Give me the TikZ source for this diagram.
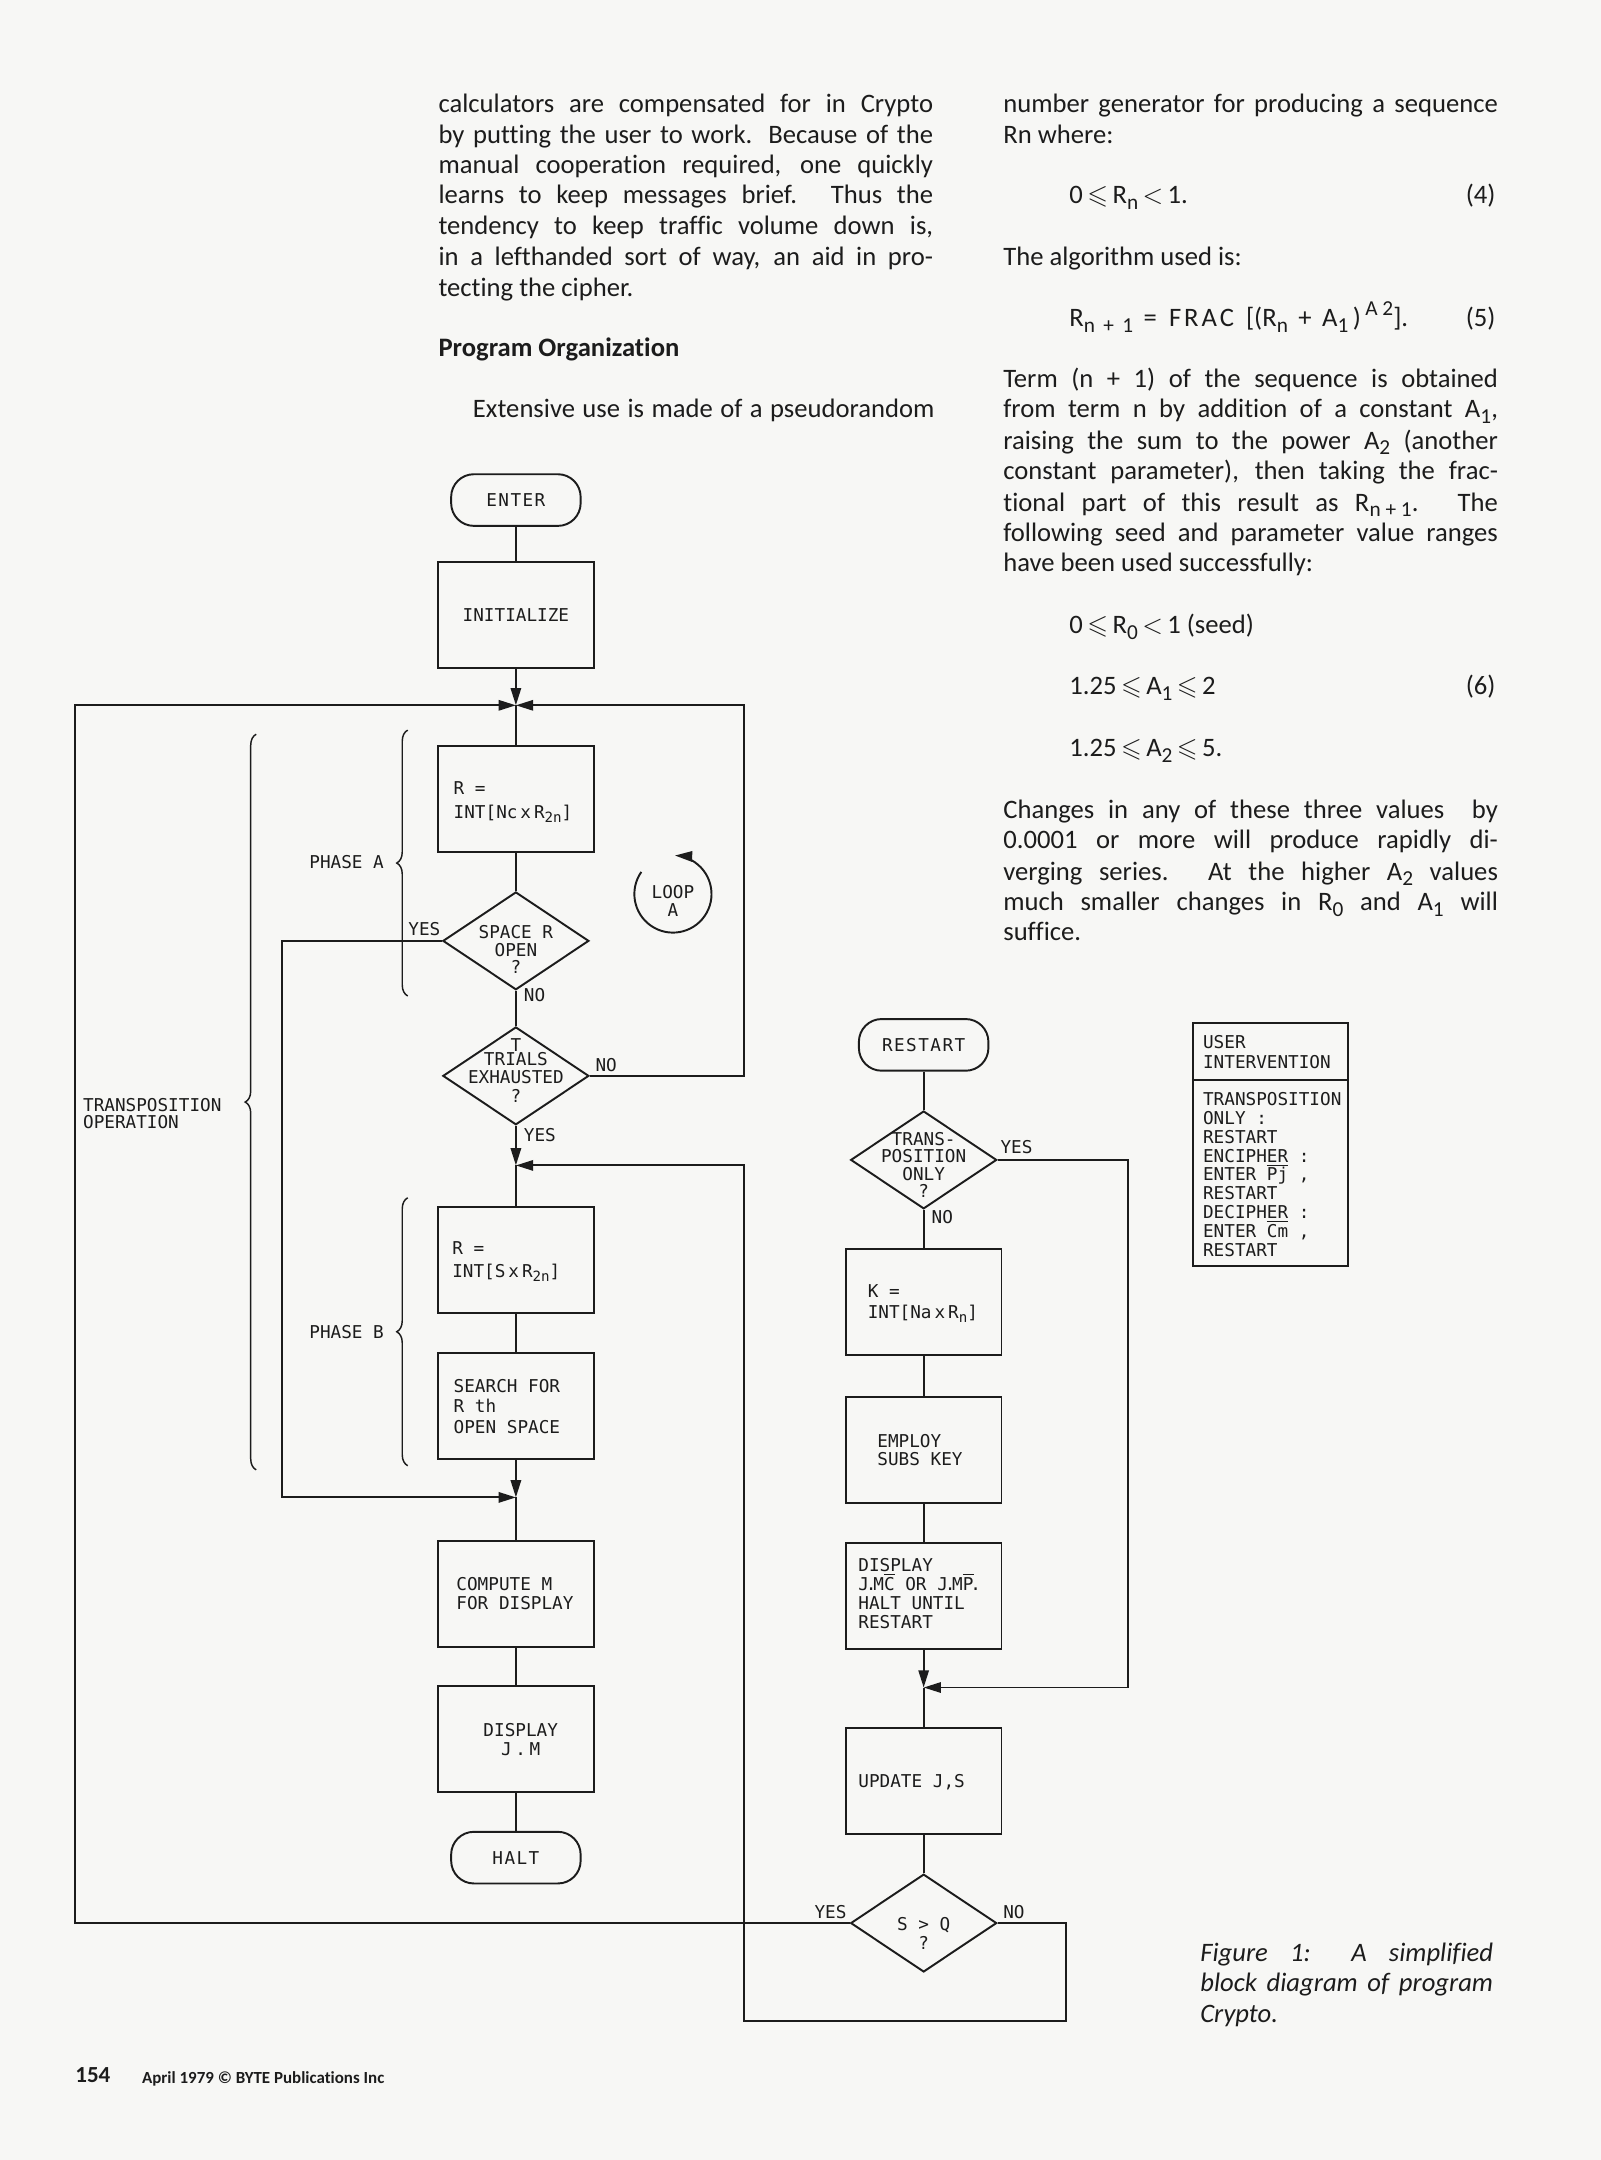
\documentclass[tikz,border=0pt]{standalone}
\usepackage{fontspec}
\usepackage{amssymb}
\usepackage{graphicx}
\setmainfont{Carlito}[Ligatures=NoCommon]
\newfontfamily\chfam{DejaVu Sans Mono}
\usetikzlibrary{arrows.meta,shapes.geometric,decorations.pathreplacing}
\definecolor{pagebg}{RGB}{247,247,245}
\definecolor{ink}{RGB}{28,28,28}
\newcommand\bodyf{\fontsize{11pt}{13pt}\selectfont}
\newcommand\chf{\chfam\fontsize{7.3pt}{8pt}\selectfont}
\newcommand\lo[1]{\raisebox{-0.45ex}{\scalebox{0.8}{#1}}}
\newcommand\hi[1]{\raisebox{0.9ex}{\scalebox{0.8}{#1}}}
\newcommand\ov[1]{$\overline{\mbox{#1}}$}
\newcommand\jl[1]{\makebox[71.8mm][s]{#1}}
\newcommand\dt{\kern-1.3pt.\kern-1.3pt}
\begin{document}
\begin{tikzpicture}[x=0.2mm,y=-0.2mm,
  ln/.style={draw=ink,line width=0.8pt},
  arr/.style={ln,-{Triangle[length=2.5mm,width=1.5mm]}},
  box/.style={ln,rectangle,minimum width=22.6mm,minimum height=15.4mm,inner sep=0,font=\chf,text=ink},
  term/.style={ln,rectangle,rounded corners=3.3mm,minimum width=18.8mm,minimum height=7.5mm,inner sep=0,font=\chf,text=ink},
  dia/.style={ln,diamond,minimum width=21.2mm,minimum height=14.2mm,inner sep=0},
  ft/.style={font=\chf,text=ink,inner sep=0,anchor=base west},
  fc/.style={font=\chf,text=ink,inner sep=0,anchor=base},
  fe/.style={font=\chf,text=ink,inner sep=0,anchor=base east},
  bt/.style={font=\bodyf,text=ink,inner sep=0,anchor=base west},
  be/.style={font=\bodyf,text=ink,inner sep=0,anchor=base east},
  brc/.style={draw=ink,line width=0.6pt,decorate,decoration={brace,amplitude=1.6mm}}
]
\useasboundingbox (0,0) rectangle (1162,1568);
\fill[pagebg] (0,0) rectangle (1162,1568);

% ---------------- left column text
\node[bt] (l1) at (318,82) {\jl{calculators are compensated for in Crypto}};
\node[bt] (l2) at (318,104) {\jl{by putting the user to work. Because of the}};
\node[bt] (l3) at (318,126) {\jl{manual cooperation required, one quickly}};
\node[bt] (l4) at (318,148) {\jl{learns to keep messages brief. Thus the}};
\node[bt] (l5) at (318,170) {\jl{tendency to keep traffic volume down is,}};
\node[bt] (l6) at (318,193) {\jl{in a lefthanded sort of way, an aid in pro-}};
\node[bt] (l7) at (318,215) {tecting the cipher.};
\node[bt,font=\bodyf\bfseries] (hd) at (318,259) {Program Organization};
\node[bt] (l8) at (343,303) {\makebox[67mm][s]{Extensive use is made of a pseudorandom}};

% ---------------- right column text
\node[bt] (r1) at (728,82) {\jl{number generator for producing a sequence}};
\node[bt] (r2) at (728,104) {Rn where:};
\node[bt] (e4) at (776,148) {0\,$\leqslant$\,R\lo{n}\,$<$\,1.};
\node[be] (n4) at (1086,148) {(4)};
\node[bt] (r3) at (728,193) {The algorithm used is:};
\node[bt] (e5) at (776,237) {R\lo{n\ \,+\ \,1}\ \,=\ \ F\kern1.2pt R\kern1.2pt A\kern1.2pt C\ \ [(R\lo{n}\ \,+\ \,A\lo{1}\,)\,\hi{A\ 2}].};
\node[be] (n5) at (1086,237) {(5)};
\node[bt] (r4) at (728,281) {\jl{Term (n + 1) of the sequence is obtained}};
\node[bt] (r5) at (728,303) {\jl{from term n by addition of a constant A\lo{1},}};
\node[bt] (r6) at (728,326) {\jl{raising the sum to the power A\lo{2} (another}};
\node[bt] (r7) at (728,348) {\jl{constant parameter), then taking the frac-}};
\node[bt] (r8) at (728,371) {\jl{tional part of this result as R\lo{n\ +\ 1}. The}};
\node[bt] (r9) at (728,393) {\jl{following seed and parameter value ranges}};
\node[bt] (r10) at (728,415) {have been used successfully:};
\node[bt] (e6a) at (776,460) {0\,$\leqslant$\,R\lo{0}\,$<$\,1 (seed)};
\node[bt] (e6b) at (776,504) {1.25\,$\leqslant$\,A\lo{1}\,$\leqslant$\,2};
\node[be] (n6) at (1086,504) {(6)};
\node[bt] (e6c) at (776,549) {1.25\,$\leqslant$\,A\lo{2}\,$\leqslant$\,5.};
\node[bt] (r11) at (728,594) {\jl{Changes in any of these three values \ by}};
\node[bt] (r12) at (728,616) {\jl{0.0001 or more will produce rapidly di-}};
\node[bt] (r13) at (728,639) {\jl{verging series. At the higher A\lo{2} values}};
\node[bt] (r14) at (728,661) {\jl{much smaller changes in R\lo{0} and A\lo{1} will}};
\node[bt] (r15) at (728,683) {suffice.};

% ---------------- left flowchart
\node[term] (enter) at (374.5,363) {E\kern0.6pt N\kern0.6pt T\kern0.6pt E\kern0.6pt R};
\node[box] (init) at (374.5,446.7) {INITIALIZE};
\coordinate (jA) at (374.5,512);
\node[box] (rA) at (374.5,580) {};
\node[ft] (rA1) at (329,576.5) {R =};
\node[ft] (rA2) at (329,594) {INT[Nc\,x\,R\lo{2n}]};
\node[dia] (dSpace) at (374.5,683) {};
\node[fc] (ds1) at (374.5,681.5) {SPACE R};
\node[fc] (ds2) at (374.5,694.5) {OPEN};
\node[fc] (ds3) at (374.5,706.5) {?};
\node[dia] (dTrials) at (374.5,781) {};
\node[fc] (dt0) at (374.5,763) {T};
\node[fc] (dt1) at (374.5,773.5) {TRIALS};
\node[fc] (dt2) at (374.5,786.5) {EXHAUSTED};
\node[fc] (dt3) at (374.5,800) {?};
\coordinate (jB) at (374.5,846);
\node[box] (rB) at (374.5,914.5) {};
\node[ft] (rB1) at (328,911) {R =};
\node[ft] (rB2) at (328,927) {INT[S\,x\,R\lo{2n}]};
\node[box] (search) at (374.5,1020.5) {};
\node[ft] (se1) at (329,1011) {SEARCH FOR};
\node[ft] (se2) at (329,1025.5) {R th};
\node[ft] (se3) at (329,1040.5) {OPEN SPACE};
\coordinate (jC) at (374.5,1087);
\node[box] (compute) at (374.5,1156.8) {};
\node[ft] (co1) at (331,1154.5) {COMPUTE M};
\node[ft] (co2) at (331,1168.5) {FOR DISPLAY};
\node[box] (dispJM) at (374.5,1262.3) {};
\node[fc] (dj1) at (378,1260.5) {DISPLAY};
\node[fc] (dj2) at (378,1274.5) {J\kern1.5pt.\kern1.5pt M};
\node[term] (halt) at (374.5,1348.5) {H\kern0.6pt A\kern0.6pt L\kern0.6pt T};

\node[fe] (yesA) at (320,679) {YES};
\node[ft] (noA) at (380,727) {NO};
\node[ft] (noT) at (432,778) {NO};
\node[ft] (yesT) at (380,828.5) {YES};
\node[fe] (phA) at (279,630.5) {PHASE A};
\node[fe] (phB) at (279,971.5) {PHASE B};
\node[ft] (tr1) at (60,806.5) {TRANSPOSITION};
\node[ft] (tr2) at (60,819.5) {OPERATION};
\node[fc] (lp1) at (488.5,652.5) {LOOP};
\node[fc] (lp2) at (488.5,665.5) {A};

\coordinate (cYa) at (204.7,1087);
\coordinate (cNa) at (540,512);
\coordinate (cTL) at (54.5,512);
\coordinate (cBR) at (774,1467);
\coordinate (cBL) at (540,846);

\draw[ln] (enter) -- (init);
\draw[arr] (init) -- (jA);
\draw[ln] (jA) -- (rA);
\draw[ln] (rA) -- (dSpace);
\draw[ln] (dSpace) -- (dTrials);
\draw[arr] (dSpace.west) -| (cYa) -- (jC);
\draw[arr] (dTrials.east) -| (cNa) -- (jA);
\draw[arr] (dTrials) -- (jB);
\draw[ln] (jB) -- (rB);
\draw[ln] (rB) -- (search);
\draw[arr] (search) -- (jC);
\draw[ln] (jC) -- (compute);
\draw[ln] (compute) -- (dispJM);
\draw[ln] (dispJM) -- (halt);

% braces
\draw[brc] (186,1067) -- (186,533);
\draw[brc] (296,723) -- (296,530);
\draw[brc] (296,1064) -- (296,869.5);

% loop A
\coordinate (lc) at (488.5,649);
\draw[arr] (lc) ++(145:5.6mm) arc[start angle=145,end angle=447,radius=5.6mm];

% ---------------- right flowchart
\node[term] (restart) at (670.5,758.5) {R\kern0.6pt E\kern0.6pt S\kern0.6pt T\kern0.6pt A\kern0.6pt R\kern0.6pt T};
\node[dia] (dTrans) at (670.5,842) {};
\node[fc] (dr1) at (670.5,831.5) {TRANS-};
\node[fc] (dr2) at (670.5,844) {POSITION};
\node[fc] (dr3) at (670.5,857) {ONLY};
\node[fc] (dr4) at (670.5,869) {?};
\node[ft] (yesR) at (726,837.5) {YES};
\node[ft] (noR) at (676,888) {NO};
\node[box] (kbox) at (670.5,945) {};
\node[ft] (k1) at (629.6,942) {K =};
\node[ft] (k2) at (629.6,957) {INT[Na\,x\,R\lo{n}]};
\node[box] (employ) at (670.5,1052.8) {};
\node[ft] (em1) at (636.6,1050.5) {EMPLOY};
\node[ft] (em2) at (636.6,1064) {SUBS KEY};
\node[box] (dispJMC) at (670.5,1158.5) {};
\node[ft] (dc1) at (622.8,1141) {DISPLAY};
\node[ft] (dc2) at (622.8,1154.5) {J\dt M\ov{C} OR J\dt M\ov{P}\dt};
\node[ft] (dc3) at (622.8,1168.5) {HALT UNTIL};
\node[ft] (dc4) at (622.8,1182.5) {RESTART};
\coordinate (jD) at (670.5,1225);
\node[box] (update) at (670.5,1293) {};
\node[ft] (up1) at (622.8,1297.5) {UPDATE J,S};
\node[dia] (dSQ) at (670.5,1396) {};
\node[fc] (sq1) at (670.5,1401.5) {S > Q};
\node[fc] (sq2) at (670.5,1415.5) {?};
\node[fe] (yesS) at (614.8,1393) {YES};
\node[ft] (noS) at (728,1393) {NO};

\coordinate (cYr) at (818.7,1225);

\draw[ln] (restart) -- (dTrans);
\draw[ln] (dTrans) -- (kbox);
\draw[ln] (kbox) -- (employ);
\draw[ln] (employ) -- (dispJMC);
\draw[arr] (dispJMC) -- (jD);
\draw[arr] (dTrans.east) -| (cYr) -- (jD);
\draw[ln] (jD) -- (update);
\draw[ln] (update) -- (dSQ);
\draw[arr] (dSQ.west) -| (cTL) -- (jA);
\draw[arr] (dSQ.east) -| (cBR) -| (cBL) -- (jB);

% ---------------- user intervention box
\node[ln,rectangle,minimum width=22.5mm,minimum height=35.2mm,inner sep=0] (ubox) at (922.2,830.9) {};
\coordinate (divy) at (0,783.8);
\draw[ln] (ubox.west |- divy) -- (ubox.east |- divy);
\node[ft] (u1) at (873,761) {USER};
\node[ft] (u2) at (873,775.5) {INTERVENTION};
\node[ft] (u3) at (873,802.5) {TRANSPOSITION};
\node[ft] (u4) at (873,816.2) {ONLY :};
\node[ft] (u5) at (873,829.9) {RESTART};
\node[ft] (u6) at (873,843.6) {ENCIPHE\underline{R} :};
\node[ft] (u7) at (873,857.3) {ENTER \ov{P}j ,};
\node[ft] (u8) at (873,871) {RESTART};
\node[ft] (u9) at (873,884.7) {DECIPHE\underline{R} :};
\node[ft] (u10) at (873,898.4) {ENTER \ov{C}m ,};
\node[ft] (u11) at (873,912.1) {RESTART};

% ---------------- caption and footer
\node[bt,font=\bodyf\itshape] (cap1) at (871,1424) {\makebox[42.5mm][s]{Figure 1: A simplified}};
\node[bt,font=\bodyf\itshape] (cap2) at (871,1446) {\makebox[42.5mm][s]{block diagram of program}};
\node[bt,font=\bodyf\itshape] (cap3) at (871,1468) {Crypto.};
\node[bt,font=\fontsize{9.5pt}{10pt}\selectfont\bfseries] (pg) at (54.4,1512) {154};
\node[bt,font=\fontsize{7pt}{8pt}\selectfont\bfseries] (ft) at (102.8,1512.6) {April 1979 \textcopyright\ BYTE Publications Inc};
\end{tikzpicture}
\end{document}
